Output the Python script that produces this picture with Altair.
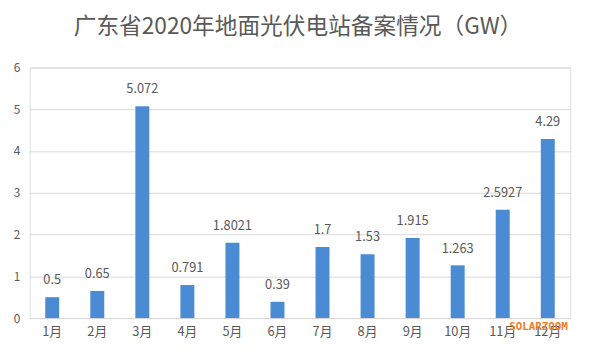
import altair as alt
import pandas as pd

months = ["1月", "2月", "3月", "4月", "5月", "6月", "7月", "8月", "9月", "10月", "11月", "12月"]
values = [0.5, 0.65, 5.072, 0.791, 1.8021, 0.39, 1.7, 1.53, 1.915, 1.263, 2.5927, 4.29]
labels = ["0.5", "0.65", "5.072", "0.791", "1.8021", "0.39", "1.7", "1.53", "1.915", "1.263", "2.5927", "4.29"]

df = pd.DataFrame({"month": months, "value": values, "label": labels})

FONT = "Noto Sans CJK SC"
GRAY = "#595959"

x = alt.X("month:N", sort=months, title=None,
          scale=alt.Scale(paddingInner=0.69, paddingOuter=0.345),
          axis=alt.Axis(labelAngle=0, labelColor=GRAY, labelFontSize=13, labelFont=FONT,
                        ticks=False, domainColor="#d9d9d9", labelPadding=8, grid=False))
y = alt.Y("value:Q", title=None,
          scale=alt.Scale(domain=[0, 6]),
          axis=alt.Axis(values=[0, 1, 2, 3, 4, 5, 6], labelColor=GRAY, labelFontSize=12,
                        labelFont=FONT, ticks=False, domain=False, gridColor="#d9d9d9",
                        labelPadding=10))

bars = alt.Chart(df).mark_bar(color="#4a8bd4").encode(x=x, y=y)

text = alt.Chart(df).mark_text(baseline="bottom", dy=-10, fontSize=13, font=FONT, color=GRAY).encode(
    x=alt.X("month:N", sort=months), y="value:Q", text="label:N")

wm = alt.Chart(pd.DataFrame({"t": ["SOLARZOOM"]})).mark_text(
    align="left", baseline="middle", fontSize=11, font="DejaVu Sans Mono", fontWeight="bold",
    color="#ef7d22").encode(x=alt.value(486), y=alt.value(263), text="t:N")

title = alt.Chart(pd.DataFrame({"t": ["广东省2020年地面光伏电站备案情况（GW）"]})).mark_text(
    align="center", baseline="middle", fontSize=23, font=FONT, color=GRAY).encode(
    x=alt.value(272), y=alt.value(-41), text="t:N")

chart = alt.layer(bars, text, wm, title).properties(
    width=548, height=254,
    autosize=alt.AutoSizeParams(type="none"),
    padding={"left": 22, "top": 58, "right": 22, "bottom": 28},
).configure_view(stroke=None).configure(background="white")

chart.save("out.html", embed_options={"renderer": "svg", "actions": False})
